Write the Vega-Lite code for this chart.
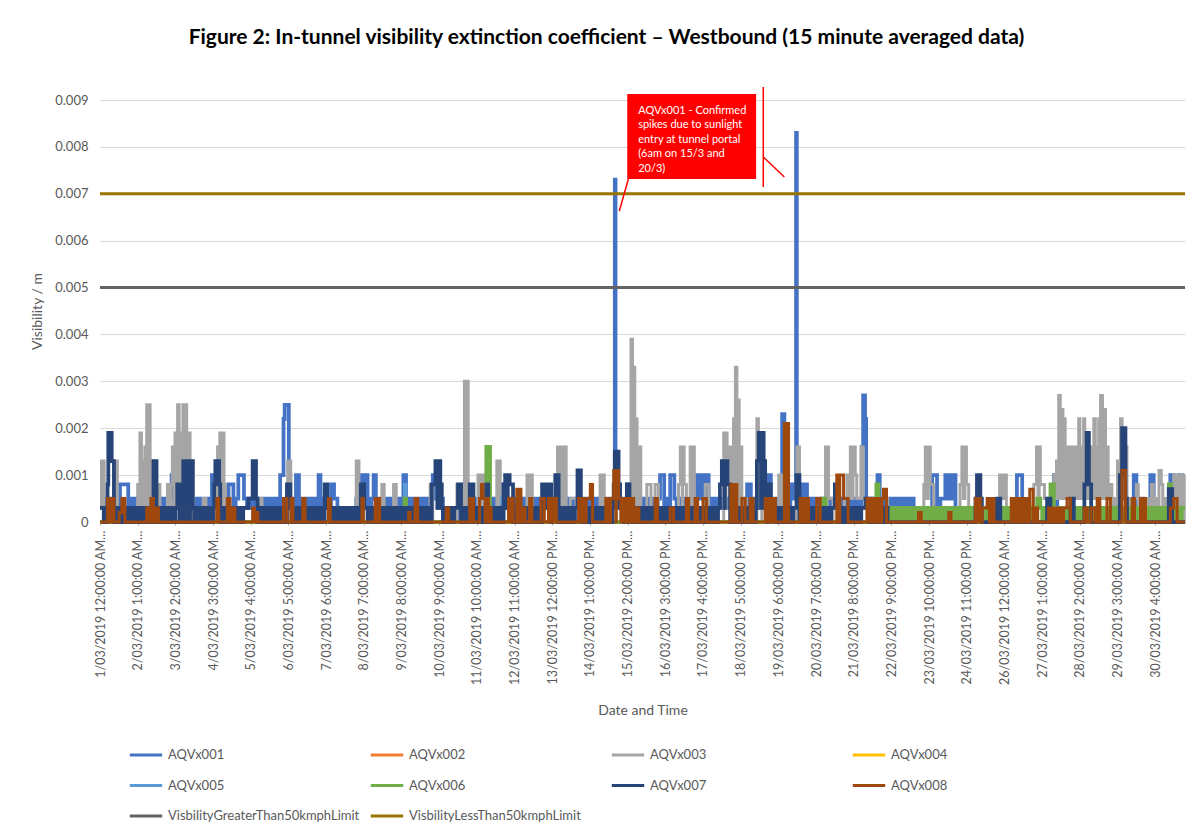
{
"$schema":"https://vega.github.io/schema/vega-lite/v6.json",
"width":1085,"height":422,
"autosize":{"type":"none"},
"padding":{"left":100,"top":100,"right":17,"bottom":310},
"title":{"text":"Figure 2: In-tunnel visibility extinction coefficient – Westbound (15 minute averaged data)","anchor":"middle","frame":"group","dx":-36,"offset":38,"fontSize":21,"fontWeight":"bold","color":"#000000","font":"Lato"},
"config":{
"view":{"stroke":null},
"font":"Lato",
"axis":{"labelFont":"Lato","titleFont":"Lato","labelColor":"#595959","titleColor":"#595959","titleFontWeight":"normal"},
"axisX":{"tickCount":29,"labelOverlap":false,"labelFlush":false,"labelBound":false,"labelAngle":-90,"labelAlign":"right","labelBaseline":"middle","labelLimit":300},
"axisY":{"tickCount":10},
"legend":{"orient":"none","legendX":28,"legendY":637,"direction":"horizontal","columns":4,"gridAlign":"all","symbolType":"stroke","symbolStrokeWidth":3,"symbolSize":1050,"labelFont":"Lato","labelFontSize":13,"labelColor":"#595959","labelOffset":4,"labelLimit":400,"rowPadding":5.5,"columnPadding":4,"padding":0},
"range":{"category":["#4472C4","#ED7D31","#A5A5A5","#FFC000","#5B9BD5","#70AD47","#264478","#9E480E","#636363","#997300"]}
},
"datasets":{
"a1":[{"i":0,"v":0.0005},{"i":10,"v":0.0003},{"i":20,"v":0.0005},{"i":30,"v":0.0003},{"i":40,"v":0.0005},{"i":50,"v":0.0003},{"i":53,"v":0.0008},{"i":75,"v":0.0003},{"i":80,"v":0.0005},{"i":90,"v":0.0003},{"i":100,"v":0.0005},{"i":110,"v":0.0003},{"i":120,"v":0.0005},{"i":130,"v":0.0003},{"i":140,"v":0.0005},{"i":150,"v":0.0003},{"i":160,"v":0.0005},{"i":170,"v":0.0003},{"i":180,"v":0.0005},{"i":190,"v":0.001},{"i":197,"v":0.0003},{"i":200,"v":0.0005},{"i":210,"v":0.0003},{"i":220,"v":0.0005},{"i":230,"v":0.0003},{"i":240,"v":0.0005},{"i":250,"v":0.0003},{"i":260,"v":0.0005},{"i":270,"v":0.0003},{"i":280,"v":0.0005},{"i":290,"v":0.0003},{"i":297,"v":0.001},{"i":303,"v":0.0005},{"i":310,"v":0.0003},{"i":320,"v":0.0005},{"i":330,"v":0.0003},{"i":340,"v":0.0005},{"i":341,"v":0.0008},{"i":354,"v":0.0003},{"i":360,"v":0.0005},{"i":367,"v":0.001},{"i":382,"v":0.0005},{"i":390,"v":0.0003},{"i":400,"v":0.0005},{"i":410,"v":0.0003},{"i":420,"v":0.0005},{"i":430,"v":0.0003},{"i":440,"v":0.0005},{"i":450,"v":0.0003},{"i":460,"v":0.0005},{"i":470,"v":0.0003},{"i":478,"v":0.001},{"i":487,"v":0.0022},{"i":490,"v":0.0025},{"i":501,"v":0.001},{"i":505,"v":0.0005},{"i":510,"v":0.0003},{"i":520,"v":0.001},{"i":528,"v":0.0005},{"i":530,"v":0.0003},{"i":540,"v":0.0005},{"i":550,"v":0.0003},{"i":560,"v":0.0005},{"i":570,"v":0.0003},{"i":580,"v":0.001},{"i":585,"v":0.0005},{"i":590,"v":0.0003},{"i":600,"v":0.0005},{"i":610,"v":0.0003},{"i":613,"v":0.0008},{"i":621,"v":0.0005},{"i":630,"v":0},{"i":670,"v":0.0003},{"i":680,"v":0.0005},{"i":689,"v":0.001},{"i":695,"v":0.0003},{"i":700,"v":0.0005},{"i":704,"v":0.001},{"i":710,"v":0.0003},{"i":720,"v":0.0005},{"i":726,"v":0.001},{"i":732,"v":0.0003},{"i":740,"v":0.0005},{"i":750,"v":0.0003},{"i":760,"v":0.0005},{"i":770,"v":0.0003},{"i":780,"v":0.0005},{"i":790,"v":0.0003},{"i":800,"v":0.0005},{"i":805,"v":0.001},{"i":812,"v":0.0003},{"i":820,"v":0.0005},{"i":830,"v":0.0003},{"i":840,"v":0.0005},{"i":850,"v":0.0003},{"i":860,"v":0.0005},{"i":870,"v":0.0003},{"i":880,"v":0.0005},{"i":883,"v":0.001},{"i":889,"v":0.0005},{"i":895,"v":0.0003},{"i":900,"v":0.0005},{"i":910,"v":0},{"i":950,"v":0.0003},{"i":960,"v":0.0005},{"i":965,"v":0.0008},{"i":969,"v":0.0005},{"i":970,"v":0.0003},{"i":980,"v":0.0005},{"i":990,"v":0.0003},{"i":1000,"v":0.0005},{"i":1010,"v":0.0003},{"i":1020,"v":0.0005},{"i":1030,"v":0.0003},{"i":1040,"v":0.0005},{"i":1050,"v":0.0003},{"i":1060,"v":0.0005},{"i":1067,"v":0.0008},{"i":1071,"v":0.0003},{"i":1080,"v":0.0005},{"i":1090,"v":0.0003},{"i":1100,"v":0.0005},{"i":1110,"v":0.0003},{"i":1120,"v":0.0005},{"i":1130,"v":0.0003},{"i":1140,"v":0.0005},{"i":1150,"v":0.0003},{"i":1160,"v":0.0005},{"i":1170,"v":0.0003},{"i":1180,"v":0.0005},{"i":1190,"v":0.0003},{"i":1200,"v":0.0005},{"i":1210,"v":0.0003},{"i":1220,"v":0.0005},{"i":1230,"v":0.0003},{"i":1240,"v":0.0005},{"i":1250,"v":0.0003},{"i":1260,"v":0.0005},{"i":1270,"v":0.0003},{"i":1280,"v":0.0005},{"i":1290,"v":0.0003},{"i":1300,"v":0.0005},{"i":1310,"v":0.0003},{"i":1320,"v":0.0005},{"i":1330,"v":0.0003},{"i":1340,"v":0.0005},{"i":1350,"v":0.0003},{"i":1360,"v":0.0005},{"i":1366,"v":0.0073},{"i":1368,"v":0.0005},{"i":1370,"v":0.0003},{"i":1380,"v":0.0005},{"i":1390,"v":0.0003},{"i":1398,"v":0.0008},{"i":1409,"v":0.0005},{"i":1410,"v":0.0003},{"i":1420,"v":0.0005},{"i":1430,"v":0.0003},{"i":1440,"v":0.0005},{"i":1450,"v":0.0003},{"i":1460,"v":0.0005},{"i":1470,"v":0.0003},{"i":1480,"v":0.0005},{"i":1486,"v":0.001},{"i":1497,"v":0.0003},{"i":1500,"v":0.0005},{"i":1510,"v":0.0003},{"i":1513,"v":0.001},{"i":1524,"v":0.0005},{"i":1530,"v":0.0003},{"i":1540,"v":0.0005},{"i":1550,"v":0.0003},{"i":1560,"v":0.0005},{"i":1570,"v":0.0003},{"i":1580,"v":0.0005},{"i":1584,"v":0.001},{"i":1593,"v":0.0005},{"i":1597,"v":0.001},{"i":1604,"v":0.0005},{"i":1606,"v":0.001},{"i":1615,"v":0.0003},{"i":1620,"v":0.0005},{"i":1630,"v":0.0003},{"i":1640,"v":0.0005},{"i":1650,"v":0.0003},{"i":1660,"v":0.0005},{"i":1670,"v":0.0003},{"i":1680,"v":0.0005},{"i":1690,"v":0.0003},{"i":1700,"v":0.0005},{"i":1710,"v":0.0003},{"i":1717,"v":0.0008},{"i":1727,"v":0.0005},{"i":1730,"v":0.0003},{"i":1740,"v":0.0005},{"i":1750,"v":0.0003},{"i":1760,"v":0.0005},{"i":1770,"v":0.0003},{"i":1774,"v":0.001},{"i":1780,"v":0.0005},{"i":1790,"v":0.0003},{"i":1800,"v":0.0005},{"i":1810,"v":0.0023},{"i":1816,"v":0.0003},{"i":1820,"v":0.0005},{"i":1830,"v":0.0003},{"i":1832,"v":0.0008},{"i":1841,"v":0.0005},{"i":1847,"v":0.0083},{"i":1849,"v":0.0005},{"i":1850,"v":0.0003},{"i":1860,"v":0.0005},{"i":1863,"v":0.0008},{"i":1869,"v":0.0003},{"i":1870,"v":0.0008},{"i":1876,"v":0.0003},{"i":1880,"v":0.0005},{"i":1890,"v":0.0003},{"i":1900,"v":0.0005},{"i":1910,"v":0.0003},{"i":1920,"v":0.0005},{"i":1930,"v":0.0003},{"i":1940,"v":0.0005},{"i":1950,"v":0.0003},{"i":1960,"v":0.0005},{"i":1970,"v":0.0003},{"i":1980,"v":0.0005},{"i":1990,"v":0.0003},{"i":2000,"v":0.0005},{"i":2010,"v":0.0003},{"i":2020,"v":0.0005},{"i":2022,"v":0.0016},{"i":2025,"v":0.0027},{"i":2030,"v":0.0022},{"i":2033,"v":0.0003},{"i":2040,"v":0.0005},{"i":2050,"v":0.0003},{"i":2060,"v":0.0005},{"i":2063,"v":0.001},{"i":2069,"v":0.0005},{"i":2070,"v":0.0003},{"i":2080,"v":0.0005},{"i":2090,"v":0},{"i":2093,"v":0.0005},{"i":2100,"v":0},{"i":2105,"v":0.0005},{"i":2112,"v":0},{"i":2117,"v":0.0005},{"i":2124,"v":0},{"i":2129,"v":0.0005},{"i":2135,"v":0},{"i":2140,"v":0.0005},{"i":2147,"v":0},{"i":2152,"v":0.0005},{"i":2159,"v":0},{"i":2208,"v":0.001},{"i":2221,"v":0},{"i":2230,"v":0.0005},{"i":2243,"v":0.001},{"i":2252,"v":0.0005},{"i":2261,"v":0.001},{"i":2270,"v":0},{"i":2433,"v":0.001},{"i":2447,"v":0},{"i":2531,"v":0.001},{"i":2540,"v":0},{"i":2743,"v":0.001},{"i":2750,"v":0},{"i":2763,"v":0.0005},{"i":2770,"v":0},{"i":2787,"v":0.001},{"i":2796,"v":0},{"i":2840,"v":0.001},{"i":2849,"v":0},{"i":2863,"v":0.001},{"i":2872,"v":0},{"i":2879,"v":0}],
"a2":[{"i":0,"v":0},{"i":2879,"v":0}],
"a3":[{"i":0,"v":0.0013},{"i":4,"v":0.0003},{"i":7,"v":0.0013},{"i":11,"v":0},{"i":37,"v":0.0013},{"i":41,"v":0.0003},{"i":43,"v":0.0013},{"i":46,"v":0},{"i":100,"v":0.0008},{"i":104,"v":0.0003},{"i":106,"v":0.0019},{"i":110,"v":0.0003},{"i":113,"v":0.0013},{"i":116,"v":0.0003},{"i":119,"v":0.0016},{"i":122,"v":0.0003},{"i":124,"v":0.0025},{"i":128,"v":0.0003},{"i":130,"v":0.0025},{"i":133,"v":0.0003},{"i":135,"v":0.0013},{"i":140,"v":0},{"i":146,"v":0.0008},{"i":152,"v":0.0003},{"i":154,"v":0.0008},{"i":159,"v":0},{"i":179,"v":0.0008},{"i":184,"v":0.0003},{"i":187,"v":0.0008},{"i":192,"v":0.0016},{"i":196,"v":0.0003},{"i":199,"v":0.0019},{"i":203,"v":0.0003},{"i":206,"v":0.0025},{"i":210,"v":0.0003},{"i":213,"v":0.0019},{"i":217,"v":0.0003},{"i":220,"v":0.0025},{"i":224,"v":0.0003},{"i":227,"v":0.0025},{"i":230,"v":0.0019},{"i":234,"v":0.0003},{"i":236,"v":0.0019},{"i":239,"v":0.0013},{"i":243,"v":0.0003},{"i":245,"v":0.0013},{"i":248,"v":0},{"i":274,"v":0.0005},{"i":281,"v":0},{"i":308,"v":0.0008},{"i":312,"v":0.0016},{"i":315,"v":0.0003},{"i":318,"v":0.0019},{"i":322,"v":0.0003},{"i":325,"v":0.0019},{"i":329,"v":0.0008},{"i":333,"v":0},{"i":425,"v":0.0005},{"i":430,"v":0},{"i":498,"v":0.0013},{"i":506,"v":0},{"i":680,"v":0.0013},{"i":687,"v":0},{"i":748,"v":0.0008},{"i":754,"v":0},{"i":779,"v":0.0008},{"i":786,"v":0},{"i":876,"v":0.0008},{"i":883,"v":0},{"i":947,"v":0.0008},{"i":953,"v":0.0003},{"i":955,"v":0.0008},{"i":962,"v":0.0003},{"i":964,"v":0.0008},{"i":967,"v":0.003},{"i":972,"v":0.0003},{"i":974,"v":0.003},{"i":977,"v":0},{"i":1003,"v":0.001},{"i":1008,"v":0.0003},{"i":1010,"v":0.001},{"i":1015,"v":0.0003},{"i":1017,"v":0.001},{"i":1020,"v":0},{"i":1053,"v":0.0013},{"i":1058,"v":0.0003},{"i":1059,"v":0.0013},{"i":1062,"v":0},{"i":1133,"v":0.001},{"i":1139,"v":0.0003},{"i":1141,"v":0.001},{"i":1147,"v":0.0003},{"i":1149,"v":0},{"i":1214,"v":0.0016},{"i":1219,"v":0.0003},{"i":1221,"v":0.0016},{"i":1226,"v":0.0003},{"i":1228,"v":0.0016},{"i":1233,"v":0.0003},{"i":1234,"v":0.0016},{"i":1237,"v":0},{"i":1248,"v":0.0005},{"i":1263,"v":0},{"i":1327,"v":0.001},{"i":1333,"v":0.0003},{"i":1334,"v":0.001},{"i":1338,"v":0},{"i":1385,"v":0.0005},{"i":1394,"v":0},{"i":1404,"v":0.0008},{"i":1409,"v":0.0039},{"i":1413,"v":0.0003},{"i":1414,"v":0.0033},{"i":1419,"v":0.0003},{"i":1420,"v":0.0022},{"i":1425,"v":0.0003},{"i":1426,"v":0.0016},{"i":1432,"v":0.0003},{"i":1433,"v":0.0016},{"i":1435,"v":0},{"i":1451,"v":0.0008},{"i":1462,"v":0},{"i":1473,"v":0.0008},{"i":1482,"v":0},{"i":1535,"v":0.0008},{"i":1540,"v":0.0016},{"i":1545,"v":0.0003},{"i":1546,"v":0.0016},{"i":1550,"v":0.0008},{"i":1556,"v":0},{"i":1566,"v":0.0016},{"i":1571,"v":0.0003},{"i":1572,"v":0.0016},{"i":1577,"v":0},{"i":1606,"v":0.0008},{"i":1615,"v":0},{"i":1655,"v":0.0019},{"i":1660,"v":0.0003},{"i":1661,"v":0.0019},{"i":1664,"v":0.0008},{"i":1668,"v":0.0016},{"i":1672,"v":0.0003},{"i":1676,"v":0.0016},{"i":1681,"v":0.0022},{"i":1684,"v":0.0003},{"i":1686,"v":0.0033},{"i":1690,"v":0.0003},{"i":1692,"v":0.0026},{"i":1696,"v":0.0003},{"i":1699,"v":0.0016},{"i":1703,"v":0.0003},{"i":1706,"v":0.0005},{"i":1715,"v":0},{"i":1743,"v":0.0022},{"i":1747,"v":0.0003},{"i":1750,"v":0.0008},{"i":1756,"v":0},{"i":1801,"v":0.001},{"i":1807,"v":0.0003},{"i":1808,"v":0.001},{"i":1814,"v":0},{"i":1849,"v":0.0016},{"i":1856,"v":0},{"i":1925,"v":0.0016},{"i":1929,"v":0.0003},{"i":1930,"v":0.0016},{"i":1933,"v":0.0005},{"i":1945,"v":0},{"i":1975,"v":0.0005},{"i":1982,"v":0.001},{"i":1986,"v":0.0005},{"i":1991,"v":0.0016},{"i":1995,"v":0.0005},{"i":1998,"v":0.0016},{"i":2004,"v":0.001},{"i":2008,"v":0.0005},{"i":2019,"v":0.0016},{"i":2025,"v":0.0005},{"i":2090,"v":0},{"i":2186,"v":0.0008},{"i":2190,"v":0.0016},{"i":2194,"v":0.0005},{"i":2198,"v":0.0016},{"i":2203,"v":0.0008},{"i":2212,"v":0},{"i":2282,"v":0.0008},{"i":2287,"v":0.0016},{"i":2291,"v":0.0005},{"i":2295,"v":0.0016},{"i":2299,"v":0.0008},{"i":2305,"v":0},{"i":2387,"v":0.001},{"i":2393,"v":0.0005},{"i":2395,"v":0.001},{"i":2400,"v":0.0005},{"i":2401,"v":0.001},{"i":2405,"v":0},{"i":2478,"v":0.0008},{"i":2485,"v":0.0016},{"i":2489,"v":0.0005},{"i":2492,"v":0.0016},{"i":2495,"v":0.0008},{"i":2506,"v":0.0005},{"i":2515,"v":0},{"i":2520,"v":0.0005},{"i":2525,"v":0},{"i":2531,"v":0.001},{"i":2535,"v":0.0005},{"i":2538,"v":0.0013},{"i":2541,"v":0.0005},{"i":2544,"v":0.0027},{"i":2548,"v":0.0005},{"i":2552,"v":0.0024},{"i":2555,"v":0.0005},{"i":2557,"v":0.0022},{"i":2561,"v":0.0005},{"i":2564,"v":0.0016},{"i":2568,"v":0.0005},{"i":2571,"v":0.0016},{"i":2575,"v":0.0005},{"i":2578,"v":0.0016},{"i":2582,"v":0.0013},{"i":2585,"v":0.0005},{"i":2588,"v":0.0016},{"i":2592,"v":0.0005},{"i":2597,"v":0.0022},{"i":2600,"v":0.0005},{"i":2603,"v":0.0016},{"i":2606,"v":0.0005},{"i":2610,"v":0.0022},{"i":2613,"v":0.0005},{"i":2616,"v":0.0016},{"i":2620,"v":0.0005},{"i":2625,"v":0.0013},{"i":2628,"v":0.0005},{"i":2630,"v":0.0016},{"i":2634,"v":0.0005},{"i":2637,"v":0.0022},{"i":2641,"v":0.0005},{"i":2644,"v":0.0016},{"i":2647,"v":0.0005},{"i":2650,"v":0.0022},{"i":2653,"v":0.0005},{"i":2655,"v":0.0027},{"i":2660,"v":0.0005},{"i":2664,"v":0.0024},{"i":2668,"v":0.0005},{"i":2671,"v":0.0016},{"i":2675,"v":0.0005},{"i":2680,"v":0.0008},{"i":2685,"v":0},{"i":2690,"v":0.0005},{"i":2695,"v":0},{"i":2700,"v":0.0013},{"i":2704,"v":0.0005},{"i":2708,"v":0.0022},{"i":2712,"v":0.0005},{"i":2714,"v":0.0016},{"i":2718,"v":0.0005},{"i":2721,"v":0.0016},{"i":2725,"v":0.0005},{"i":2730,"v":0},{"i":2735,"v":0.0005},{"i":2740,"v":0},{"i":2745,"v":0.0005},{"i":2750,"v":0.0008},{"i":2755,"v":0},{"i":2760,"v":0.0005},{"i":2765,"v":0},{"i":2770,"v":0.0005},{"i":2775,"v":0},{"i":2780,"v":0.0005},{"i":2785,"v":0},{"i":2790,"v":0.0008},{"i":2795,"v":0},{"i":2800,"v":0.0005},{"i":2805,"v":0},{"i":2810,"v":0.0011},{"i":2816,"v":0.0008},{"i":2820,"v":0},{"i":2825,"v":0.0005},{"i":2830,"v":0},{"i":2835,"v":0.0005},{"i":2840,"v":0},{"i":2845,"v":0.0005},{"i":2849,"v":0.001},{"i":2855,"v":0},{"i":2858,"v":0.001},{"i":2865,"v":0},{"i":2868,"v":0.001},{"i":2875,"v":0},{"i":2877,"v":0.001},{"i":2879,"v":0.001}],
"a4":[{"i":0,"v":0},{"i":2879,"v":0}],
"a5":[{"i":0,"v":0},{"i":808,"v":0.0008},{"i":812,"v":0},{"i":1066,"v":0.0005},{"i":1070,"v":0},{"i":2879,"v":0}],
"a6":[{"i":0,"v":0},{"i":808,"v":0.0005},{"i":812,"v":0},{"i":1025,"v":0.0016},{"i":1030,"v":0},{"i":1031,"v":0.0016},{"i":1035,"v":0},{"i":1916,"v":0.0005},{"i":1925,"v":0},{"i":2060,"v":0.0008},{"i":2066,"v":0},{"i":2090,"v":0.0003},{"i":2100,"v":0},{"i":2110,"v":0.0003},{"i":2120,"v":0},{"i":2130,"v":0.0003},{"i":2140,"v":0},{"i":2150,"v":0.0003},{"i":2160,"v":0},{"i":2170,"v":0.0003},{"i":2180,"v":0},{"i":2190,"v":0.0003},{"i":2200,"v":0},{"i":2210,"v":0.0003},{"i":2220,"v":0},{"i":2230,"v":0.0003},{"i":2240,"v":0},{"i":2250,"v":0.0003},{"i":2260,"v":0},{"i":2270,"v":0.0003},{"i":2280,"v":0},{"i":2290,"v":0.0003},{"i":2300,"v":0},{"i":2310,"v":0.0003},{"i":2320,"v":0},{"i":2330,"v":0.0003},{"i":2340,"v":0},{"i":2350,"v":0.0003},{"i":2360,"v":0},{"i":2370,"v":0.0003},{"i":2380,"v":0},{"i":2390,"v":0.0003},{"i":2400,"v":0},{"i":2410,"v":0.0003},{"i":2420,"v":0},{"i":2430,"v":0.0003},{"i":2440,"v":0},{"i":2450,"v":0.0003},{"i":2460,"v":0},{"i":2470,"v":0.0003},{"i":2480,"v":0},{"i":2487,"v":0.0005},{"i":2495,"v":0.0003},{"i":2500,"v":0},{"i":2510,"v":0.0003},{"i":2520,"v":0},{"i":2522,"v":0.0008},{"i":2531,"v":0.0003},{"i":2540,"v":0},{"i":2550,"v":0.0003},{"i":2560,"v":0},{"i":2570,"v":0.0003},{"i":2580,"v":0},{"i":2590,"v":0.0003},{"i":2600,"v":0},{"i":2610,"v":0.0003},{"i":2620,"v":0},{"i":2630,"v":0.0003},{"i":2640,"v":0},{"i":2650,"v":0.0003},{"i":2660,"v":0},{"i":2670,"v":0.0003},{"i":2680,"v":0},{"i":2690,"v":0.0003},{"i":2700,"v":0},{"i":2710,"v":0.0003},{"i":2720,"v":0},{"i":2730,"v":0.0003},{"i":2740,"v":0},{"i":2750,"v":0.0003},{"i":2760,"v":0},{"i":2770,"v":0.0003},{"i":2780,"v":0},{"i":2790,"v":0.0003},{"i":2800,"v":0},{"i":2810,"v":0.0003},{"i":2820,"v":0},{"i":2830,"v":0.0003},{"i":2836,"v":0.0008},{"i":2842,"v":0},{"i":2850,"v":0.0003},{"i":2860,"v":0},{"i":2870,"v":0.0003},{"i":2879,"v":0.0003}],
"a7":[{"i":0,"v":0.0003},{"i":10,"v":0},{"i":20,"v":0.0008},{"i":22,"v":0.0019},{"i":31,"v":0.0013},{"i":37,"v":0},{"i":40,"v":0.0003},{"i":50,"v":0},{"i":60,"v":0.0003},{"i":70,"v":0},{"i":80,"v":0.0003},{"i":90,"v":0},{"i":100,"v":0.0003},{"i":110,"v":0},{"i":120,"v":0.0003},{"i":130,"v":0},{"i":140,"v":0.0003},{"i":142,"v":0.0013},{"i":150,"v":0},{"i":160,"v":0.0003},{"i":170,"v":0},{"i":180,"v":0.0003},{"i":190,"v":0},{"i":200,"v":0.0003},{"i":205,"v":0.0008},{"i":211,"v":0},{"i":220,"v":0.0003},{"i":221,"v":0.0013},{"i":230,"v":0},{"i":239,"v":0.0013},{"i":246,"v":0.0003},{"i":250,"v":0},{"i":260,"v":0.0003},{"i":270,"v":0},{"i":280,"v":0.0003},{"i":290,"v":0},{"i":300,"v":0.0003},{"i":303,"v":0.0008},{"i":306,"v":0.0013},{"i":316,"v":0.0008},{"i":319,"v":0},{"i":320,"v":0.0003},{"i":330,"v":0},{"i":340,"v":0.0003},{"i":350,"v":0},{"i":360,"v":0.0003},{"i":370,"v":0},{"i":380,"v":0.0003},{"i":394,"v":0.0005},{"i":405,"v":0.0013},{"i":414,"v":0.0005},{"i":418,"v":0},{"i":420,"v":0.0003},{"i":430,"v":0},{"i":440,"v":0.0003},{"i":450,"v":0},{"i":460,"v":0.0003},{"i":470,"v":0},{"i":480,"v":0.0003},{"i":490,"v":0},{"i":496,"v":0.0008},{"i":505,"v":0.0003},{"i":510,"v":0},{"i":520,"v":0.0003},{"i":530,"v":0},{"i":540,"v":0.0003},{"i":550,"v":0},{"i":560,"v":0.0003},{"i":570,"v":0},{"i":580,"v":0.0003},{"i":590,"v":0},{"i":596,"v":0.0008},{"i":603,"v":0.0003},{"i":610,"v":0},{"i":620,"v":0.0003},{"i":630,"v":0},{"i":640,"v":0.0003},{"i":650,"v":0},{"i":660,"v":0.0003},{"i":670,"v":0},{"i":680,"v":0.0003},{"i":690,"v":0},{"i":692,"v":0.0008},{"i":701,"v":0.0003},{"i":710,"v":0},{"i":720,"v":0.0003},{"i":730,"v":0},{"i":740,"v":0.0003},{"i":750,"v":0},{"i":760,"v":0.0003},{"i":770,"v":0},{"i":780,"v":0.0003},{"i":790,"v":0},{"i":800,"v":0.0003},{"i":810,"v":0},{"i":820,"v":0.0003},{"i":830,"v":0},{"i":840,"v":0.0003},{"i":850,"v":0},{"i":860,"v":0.0003},{"i":870,"v":0},{"i":880,"v":0.0008},{"i":890,"v":0.0013},{"i":896,"v":0.0003},{"i":897,"v":0.0013},{"i":903,"v":0.0008},{"i":907,"v":0.0003},{"i":910,"v":0},{"i":920,"v":0.0003},{"i":930,"v":0},{"i":940,"v":0.0003},{"i":950,"v":0.0008},{"i":958,"v":0},{"i":960,"v":0.0003},{"i":970,"v":0},{"i":980,"v":0.0003},{"i":981,"v":0.0008},{"i":991,"v":0},{"i":1000,"v":0.0003},{"i":1010,"v":0},{"i":1020,"v":0.0003},{"i":1025,"v":0.0008},{"i":1030,"v":0},{"i":1040,"v":0.0003},{"i":1050,"v":0},{"i":1060,"v":0.0003},{"i":1070,"v":0},{"i":1071,"v":0.0008},{"i":1075,"v":0.001},{"i":1081,"v":0.0003},{"i":1082,"v":0.001},{"i":1087,"v":0.0008},{"i":1096,"v":0},{"i":1100,"v":0.0003},{"i":1110,"v":0},{"i":1120,"v":0.0003},{"i":1130,"v":0},{"i":1140,"v":0.0003},{"i":1150,"v":0},{"i":1160,"v":0.0003},{"i":1170,"v":0},{"i":1173,"v":0.0008},{"i":1181,"v":0.0003},{"i":1183,"v":0.0008},{"i":1190,"v":0.0003},{"i":1191,"v":0.0008},{"i":1197,"v":0},{"i":1200,"v":0.0003},{"i":1208,"v":0.001},{"i":1217,"v":0},{"i":1220,"v":0.0003},{"i":1230,"v":0},{"i":1240,"v":0.0003},{"i":1250,"v":0},{"i":1260,"v":0.0003},{"i":1267,"v":0.0011},{"i":1276,"v":0},{"i":1280,"v":0.0003},{"i":1290,"v":0},{"i":1300,"v":0.0003},{"i":1310,"v":0},{"i":1320,"v":0.0003},{"i":1330,"v":0},{"i":1340,"v":0.0003},{"i":1350,"v":0},{"i":1360,"v":0.0003},{"i":1363,"v":0.0008},{"i":1366,"v":0.0015},{"i":1371,"v":0.0003},{"i":1372,"v":0.0015},{"i":1376,"v":0.0008},{"i":1380,"v":0.0003},{"i":1390,"v":0},{"i":1398,"v":0.0008},{"i":1405,"v":0.0003},{"i":1410,"v":0},{"i":1420,"v":0.0003},{"i":1430,"v":0},{"i":1440,"v":0.0003},{"i":1450,"v":0},{"i":1460,"v":0.0003},{"i":1470,"v":0},{"i":1480,"v":0.0003},{"i":1490,"v":0},{"i":1500,"v":0.0003},{"i":1510,"v":0},{"i":1520,"v":0.0003},{"i":1530,"v":0},{"i":1540,"v":0.0003},{"i":1550,"v":0},{"i":1560,"v":0.0003},{"i":1570,"v":0},{"i":1580,"v":0.0003},{"i":1590,"v":0},{"i":1600,"v":0.0003},{"i":1610,"v":0},{"i":1620,"v":0.0003},{"i":1630,"v":0},{"i":1640,"v":0.0003},{"i":1645,"v":0.0008},{"i":1650,"v":0.0013},{"i":1657,"v":0.0003},{"i":1658,"v":0.0013},{"i":1665,"v":0.0008},{"i":1672,"v":0},{"i":1680,"v":0.0003},{"i":1690,"v":0},{"i":1700,"v":0.0003},{"i":1710,"v":0},{"i":1720,"v":0.0003},{"i":1730,"v":0},{"i":1740,"v":0.0003},{"i":1743,"v":0.0013},{"i":1748,"v":0.0019},{"i":1754,"v":0.0003},{"i":1755,"v":0.0019},{"i":1761,"v":0.0013},{"i":1765,"v":0.0003},{"i":1770,"v":0},{"i":1774,"v":0.0008},{"i":1780,"v":0.0003},{"i":1790,"v":0},{"i":1800,"v":0.0003},{"i":1810,"v":0},{"i":1820,"v":0.0003},{"i":1830,"v":0},{"i":1840,"v":0.0003},{"i":1848,"v":0.001},{"i":1856,"v":0},{"i":1860,"v":0.0003},{"i":1870,"v":0},{"i":1880,"v":0.0003},{"i":1890,"v":0},{"i":1900,"v":0.0003},{"i":1910,"v":0},{"i":1920,"v":0.0003},{"i":1930,"v":0},{"i":1940,"v":0.0003},{"i":1950,"v":0.0008},{"i":1958,"v":0},{"i":1960,"v":0.0003},{"i":1970,"v":0},{"i":1980,"v":0.0003},{"i":1990,"v":0},{"i":2000,"v":0.0003},{"i":2010,"v":0},{"i":2020,"v":0.0003},{"i":2031,"v":0.0005},{"i":2039,"v":0},{"i":2040,"v":0.0005},{"i":2048,"v":0.0003},{"i":2050,"v":0},{"i":2060,"v":0.0003},{"i":2070,"v":0},{"i":2080,"v":0.0003},{"i":2090,"v":0},{"i":2323,"v":0.0005},{"i":2327,"v":0.001},{"i":2336,"v":0.0005},{"i":2340,"v":0},{"i":2380,"v":0.0005},{"i":2389,"v":0},{"i":2513,"v":0.0005},{"i":2522,"v":0},{"i":2575,"v":0.0005},{"i":2584,"v":0},{"i":2612,"v":0.0008},{"i":2618,"v":0.0019},{"i":2624,"v":0.0008},{"i":2630,"v":0},{"i":2706,"v":0.001},{"i":2712,"v":0.002},{"i":2721,"v":0.0005},{"i":2725,"v":0},{"i":2836,"v":0.0007},{"i":2845,"v":0},{"i":2879,"v":0}],
"a8":[{"i":0,"v":0},{"i":20,"v":0.0005},{"i":28,"v":0},{"i":29,"v":0.0005},{"i":37,"v":0},{"i":51,"v":0.0002},{"i":58,"v":0.0005},{"i":66,"v":0},{"i":124,"v":0.0003},{"i":131,"v":0},{"i":135,"v":0.0005},{"i":142,"v":0},{"i":149,"v":0.0003},{"i":155,"v":0},{"i":310,"v":0.0005},{"i":315,"v":0},{"i":338,"v":0.0005},{"i":345,"v":0},{"i":350,"v":0.0003},{"i":358,"v":0},{"i":405,"v":0.0003},{"i":410,"v":0},{"i":414,"v":0.0002},{"i":419,"v":0},{"i":487,"v":0.0005},{"i":496,"v":0},{"i":507,"v":0.0005},{"i":512,"v":0},{"i":538,"v":0.0005},{"i":544,"v":0},{"i":606,"v":0.0005},{"i":611,"v":0},{"i":695,"v":0.0005},{"i":699,"v":0},{"i":730,"v":0.0005},{"i":736,"v":0},{"i":737,"v":0.0005},{"i":742,"v":0},{"i":819,"v":0.0002},{"i":823,"v":0},{"i":836,"v":0.0005},{"i":843,"v":0},{"i":919,"v":0.0003},{"i":925,"v":0},{"i":981,"v":0.0005},{"i":986,"v":0},{"i":987,"v":0.0005},{"i":991,"v":0},{"i":1007,"v":0.0005},{"i":1012,"v":0.0008},{"i":1016,"v":0.0005},{"i":1022,"v":0},{"i":1023,"v":0.0005},{"i":1031,"v":0},{"i":1034,"v":0.0003},{"i":1038,"v":0},{"i":1084,"v":0.0005},{"i":1090,"v":0},{"i":1091,"v":0.0005},{"i":1096,"v":0},{"i":1106,"v":0.0007},{"i":1112,"v":0},{"i":1113,"v":0.0007},{"i":1117,"v":0},{"i":1124,"v":0.0003},{"i":1128,"v":0},{"i":1140,"v":0.0005},{"i":1146,"v":0},{"i":1170,"v":0.0005},{"i":1179,"v":0},{"i":1190,"v":0.0005},{"i":1197,"v":0},{"i":1198,"v":0.0005},{"i":1204,"v":0},{"i":1205,"v":0.0005},{"i":1211,"v":0},{"i":1270,"v":0.0005},{"i":1277,"v":0},{"i":1278,"v":0.0005},{"i":1285,"v":0},{"i":1290,"v":0.0005},{"i":1301,"v":0.0008},{"i":1307,"v":0},{"i":1342,"v":0.0005},{"i":1349,"v":0},{"i":1355,"v":0.0005},{"i":1363,"v":0.0011},{"i":1369,"v":0},{"i":1370,"v":0.0011},{"i":1376,"v":0.0005},{"i":1382,"v":0},{"i":1383,"v":0.0005},{"i":1388,"v":0},{"i":1394,"v":0.0005},{"i":1401,"v":0},{"i":1402,"v":0.0005},{"i":1409,"v":0},{"i":1410,"v":0.0005},{"i":1416,"v":0},{"i":1423,"v":0.0003},{"i":1430,"v":0},{"i":1473,"v":0.0005},{"i":1479,"v":0},{"i":1513,"v":0.0003},{"i":1522,"v":0},{"i":1556,"v":0.0005},{"i":1562,"v":0},{"i":1579,"v":0.0005},{"i":1586,"v":0},{"i":1600,"v":0.0005},{"i":1609,"v":0},{"i":1674,"v":0.0008},{"i":1681,"v":0},{"i":1682,"v":0.0008},{"i":1690,"v":0},{"i":1703,"v":0.0005},{"i":1712,"v":0},{"i":1725,"v":0.0005},{"i":1733,"v":0},{"i":1765,"v":0.0005},{"i":1772,"v":0},{"i":1780,"v":0.0005},{"i":1786,"v":0},{"i":1787,"v":0.0005},{"i":1792,"v":0},{"i":1816,"v":0.0021},{"i":1822,"v":0},{"i":1823,"v":0.0021},{"i":1827,"v":0},{"i":1858,"v":0.0005},{"i":1865,"v":0},{"i":1866,"v":0.0005},{"i":1873,"v":0},{"i":1874,"v":0.0005},{"i":1880,"v":0},{"i":1902,"v":0.0005},{"i":1911,"v":0},{"i":1955,"v":0.001},{"i":1962,"v":0},{"i":1963,"v":0.001},{"i":1973,"v":0.0005},{"i":1985,"v":0},{"i":2035,"v":0.0005},{"i":2042,"v":0},{"i":2043,"v":0.0005},{"i":2050,"v":0},{"i":2051,"v":0.0005},{"i":2058,"v":0},{"i":2059,"v":0.0005},{"i":2066,"v":0},{"i":2067,"v":0.0005},{"i":2074,"v":0},{"i":2075,"v":0.0005},{"i":2079,"v":0.0007},{"i":2087,"v":0},{"i":2172,"v":0.0002},{"i":2179,"v":0},{"i":2252,"v":0.0002},{"i":2258,"v":0},{"i":2323,"v":0.0005},{"i":2330,"v":0},{"i":2331,"v":0.0005},{"i":2336,"v":0},{"i":2341,"v":0.0003},{"i":2354,"v":0.0005},{"i":2360,"v":0},{"i":2361,"v":0.0005},{"i":2366,"v":0},{"i":2367,"v":0.0005},{"i":2372,"v":0},{"i":2418,"v":0.0005},{"i":2425,"v":0},{"i":2426,"v":0.0005},{"i":2433,"v":0},{"i":2438,"v":0.0005},{"i":2445,"v":0},{"i":2446,"v":0.0005},{"i":2453,"v":0},{"i":2454,"v":0.0005},{"i":2460,"v":0},{"i":2467,"v":0.0007},{"i":2476,"v":0},{"i":2480,"v":0.0003},{"i":2488,"v":0},{"i":2517,"v":0.0003},{"i":2525,"v":0},{"i":2527,"v":0.0003},{"i":2535,"v":0},{"i":2537,"v":0.0003},{"i":2545,"v":0},{"i":2547,"v":0.0003},{"i":2555,"v":0},{"i":2557,"v":0.0003},{"i":2566,"v":0.0005},{"i":2575,"v":0},{"i":2612,"v":0.0003},{"i":2620,"v":0},{"i":2630,"v":0.0003},{"i":2640,"v":0},{"i":2646,"v":0.0005},{"i":2653,"v":0},{"i":2672,"v":0.0005},{"i":2681,"v":0},{"i":2712,"v":0.0011},{"i":2721,"v":0},{"i":2739,"v":0.0005},{"i":2745,"v":0},{"i":2761,"v":0.0005},{"i":2767,"v":0},{"i":2768,"v":0.0005},{"i":2774,"v":0},{"i":2840,"v":0.0003},{"i":2849,"v":0.0005},{"i":2858,"v":0},{"i":2879,"v":0}],
"lg":[{"i":0,"v":0.005},{"i":2879,"v":0.005}],
"ll":[{"i":0,"v":0.007},{"i":2879,"v":0.007}]
},
"layer":[
{
"encoding":{
"x":{"field":"i","type":"quantitative","scale":{"domain":[0,2879],"nice":false,"zero":false},
"axis":{"title":"Date and Time","values":[0,100,200,300,400,500,600,700,800,900,1000,1100,1200,1300,1400,1500,1600,1700,1800,1900,2000,2100,2200,2300,2400,2500,2600,2700,2800],"labelAngle":-90,"labelAlign":"right","labelBaseline":"middle","labelExpr":"utcFormat(utc(2019,2,1) + datum.value*900000, '%-d/%m/%Y %-I:%M:%S %p') + '…'","labelFontSize":12.5,"labelPadding":5,"labelLimit":300,"labelOverlap":false,"labelFlush":false,"labelBound":false,"tickSize":3,"tickColor":"#a6a6a6","domainColor":"#d9d9d9","grid":false,"titleFontSize":14,"titlePadding":19}},
"y":{"field":"v","type":"quantitative","scale":{"domain":[0,0.009],"nice":false},
"axis":{"title":"Visibility / m","values":[0,0.001,0.002,0.003,0.004,0.005,0.006,0.007,0.008,0.009],"labelExpr":"datum.value == 0 ? '0' : format(datum.value, '.3f')","labelFontSize":13,"ticks":false,"domain":false,"grid":true,"gridColor":"#d9d9d9","labelPadding":12,"titleFontSize":14,"titlePadding":10}}
},
"layer":[
{"data":{"name":"a1"},"mark":{"type":"line","interpolate":"step-after","strokeWidth":3.75},"encoding":{"color":{"datum":"AQVx001","type":"nominal","legend":{"title":null}}}},
{"data":{"name":"a2"},"mark":{"type":"line","interpolate":"step-after","strokeWidth":3},"encoding":{"color":{"datum":"AQVx002","type":"nominal","legend":{"title":null}}}},
{"data":{"name":"a3"},"mark":{"type":"line","interpolate":"step-after","strokeWidth":3},"encoding":{"color":{"datum":"AQVx003","type":"nominal","legend":{"title":null}}}},
{"data":{"name":"a4"},"mark":{"type":"line","interpolate":"step-after","strokeWidth":3},"encoding":{"color":{"datum":"AQVx004","type":"nominal","legend":{"title":null}}}},
{"data":{"name":"a5"},"mark":{"type":"line","interpolate":"step-after","strokeWidth":3},"encoding":{"color":{"datum":"AQVx005","type":"nominal","legend":{"title":null}}}},
{"data":{"name":"a6"},"mark":{"type":"line","interpolate":"step-after","strokeWidth":3.75},"encoding":{"color":{"datum":"AQVx006","type":"nominal","legend":{"title":null}}}},
{"data":{"name":"a7"},"mark":{"type":"line","interpolate":"step-after","strokeWidth":3.75},"encoding":{"color":{"datum":"AQVx007","type":"nominal","legend":{"title":null}}}},
{"data":{"name":"a8"},"mark":{"type":"line","interpolate":"step-after","strokeWidth":3},"encoding":{"color":{"datum":"AQVx008","type":"nominal","legend":{"title":null}}}},
{"data":{"name":"lg"},"mark":{"type":"line","strokeWidth":3},"encoding":{"color":{"datum":"VisbilityGreaterThan50kmphLimit","type":"nominal","legend":{"title":null}}}},
{"data":{"name":"ll"},"mark":{"type":"line","strokeWidth":3},"encoding":{"color":{"datum":"VisbilityLessThan50kmphLimit","type":"nominal","legend":{"title":null}}}}
]
},
{"data":{"values":[{"note":"callout"}]},"mark":{"type":"rect","color":"#FF0000"},"encoding":{"x":{"datum":1399,"type":"quantitative"},"x2":{"datum":1741},"y":{"datum":0.00913,"type":"quantitative"},"y2":{"datum":0.007315}}},
{"data":{"values":[{"note":"callout"}]},"mark":{"type":"text","text":["AQVx001 - Confirmed","spikes due to sunlight","entry at tunnel portal","(6am on 15/3 and","20/3)"],"align":"left","baseline":"top","lineHeight":14.5,"font":"Lato","fontSize":11,"color":"#FFFFFF"},"encoding":{"x":{"datum":1428,"type":"quantitative"},"y":{"datum":0.0089,"type":"quantitative"}}},
{"data":{"values":[{"note":"callout"}]},"mark":{"type":"rule","color":"#FF0000","strokeWidth":1.5},"encoding":{"x":{"datum":1402,"type":"quantitative"},"x2":{"datum":1378},"y":{"datum":0.007315,"type":"quantitative"},"y2":{"datum":0.006633}}},
{"data":{"values":[{"note":"callout"}]},"mark":{"type":"rule","color":"#FF0000","strokeWidth":1.5},"encoding":{"x":{"datum":1760,"type":"quantitative"},"x2":{"datum":1760},"y":{"datum":0.009277,"type":"quantitative"},"y2":{"datum":0.007144}}},
{"data":{"values":[{"note":"callout"}]},"mark":{"type":"rule","color":"#FF0000","strokeWidth":1.5},"encoding":{"x":{"datum":1760,"type":"quantitative"},"x2":{"datum":1816},"y":{"datum":0.007784,"type":"quantitative"},"y2":{"datum":0.007358}}}
]
}
